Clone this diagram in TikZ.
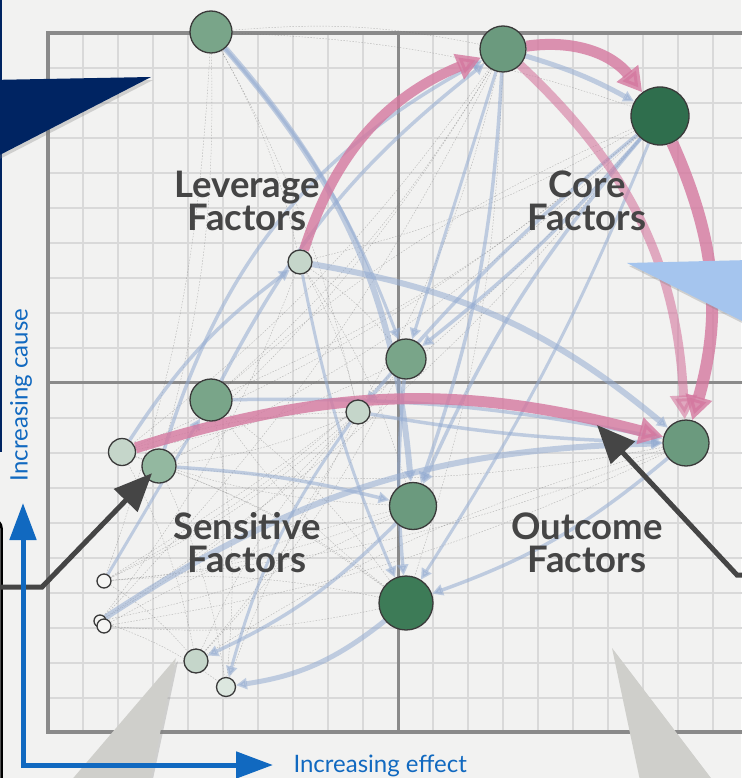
\documentclass[tikz,border=0pt]{standalone}
\usepackage{fontspec}
\setmainfont{Lato}
\usetikzlibrary{arrows.meta,shadows}
\definecolor{paper}{HTML}{F2F2F1}
\definecolor{gridline}{HTML}{D9D9D9}
\definecolor{frameline}{HTML}{8A8A8A}
\definecolor{navy}{HTML}{002462}
\definecolor{sky}{HTML}{A5C5EE}
\definecolor{stone}{HTML}{CFCFCB}
\definecolor{ink}{HTML}{454545}
\definecolor{axisblue}{HTML}{1169C0}
\definecolor{rose}{HTML}{D4789F}
\definecolor{steel}{HTML}{94ACD2}
\definecolor{rim}{HTML}{3A3A3A}
\definecolor{deep}{HTML}{2F6E4D}
\definecolor{dark}{HTML}{3D7B57}
\definecolor{mid}{HTML}{6B9A7E}
\definecolor{soft}{HTML}{79A589}
\definecolor{pale}{HTML}{93B8A0}
\definecolor{mist}{HTML}{C5D6CA}
\definecolor{frost}{HTML}{DCE7DF}
\definecolor{blank}{HTML}{F5F5F3}
\pgfdeclarelayer{base}
\pgfdeclarelayer{edges}
\pgfsetlayers{base,edges,main}
\begin{document}
\begin{tikzpicture}[x=1pt,y=-1pt,
  factor/.style={draw=rim,line width=1.3,shape=circle,inner sep=0},
  faint/.style={draw=black!55,line width=0.45,opacity=0.45,dash pattern=on 1.5pt off 1.5pt},
  link/.style={draw=steel,opacity=0.55,-{Triangle[length=11pt,width=11pt]}},
  key/.style={draw=rose,opacity=0.8,-{Triangle[length=24pt,width=26pt]}},
  quad/.style={text=ink,font=\bfseries\fontsize{36.5}{33}\selectfont,align=center},
  axislabel/.style={text=axisblue,font=\fontsize{24}{28}\selectfont},
  pointer/.style={draw=ink,line width=5,-{Triangle[length=38pt,width=32pt]}},
  callout/.style={drop shadow={opacity=0.3,shadow xshift=2pt,shadow yshift=-3pt}}]
\useasboundingbox (0,0) rectangle (741,778);
\begin{pgfonlayer}{base}
\fill[paper] (0,0) rectangle (741,778);
\foreach \k in {1,...,19} {
  \draw[gridline,line width=1.6] (48+35*\k,33) -- (48+35*\k,732);
  \draw[gridline,line width=1.6] (48,33+35*\k) -- (748,33+35*\k);
}
\draw[frameline,line width=3.5] (48,33) rectangle (748,732);
\draw[frameline,line width=3] (398,33) -- (398,732) (48,382) -- (748,382);
\end{pgfonlayer}

\node [factor,name=f1,minimum size=42,fill=soft] at (211,32){};
\node [factor,name=f2,minimum size=46,fill=mid] at (503,49){};
\node [factor,name=f3,minimum size=58,fill=deep] at (660,116){};
\node [factor,name=f4,minimum size=24,fill=mist] at (300,262){};
\node [factor,name=f5,minimum size=40,fill=soft] at (406,359){};
\node [factor,name=f6,minimum size=42,fill=soft] at (211,400){};
\node [factor,name=f7,minimum size=24,fill=mist] at (358,412){};
\node [factor,name=f8,minimum size=27,fill=mist] at (122,452){};
\node [factor,name=f9,minimum size=34,fill=pale] at (159,466){};
\node [factor,name=f10,minimum size=46,fill=mid] at (686,443){};
\node [factor,name=f11,minimum size=47,fill=mid] at (413,506){};
\node [factor,name=f12,minimum size=54,fill=dark] at (406,603){};
\node [factor,name=f13,minimum size=14,fill=blank] at (104,581){};
\node [factor,name=f14,minimum size=12,fill=blank] at (100,621){};
\node [factor,name=f15,minimum size=14,fill=blank] at (104,626){};
\node [factor,name=f16,minimum size=24,fill=mist] at (196,661){};
\node [factor,name=f17,minimum size=19,fill=frost] at (226,687){};

\begin{pgfonlayer}{edges}
\foreach \a/\b in {f1/f2,f1/f3,f1/f7,f1/f9,f1/f13,f2/f7,f2/f8,f2/f12,f2/f14,f3/f6,
  f3/f8,f3/f9,f3/f13,f4/f5,f4/f7,f4/f11,f4/f14,f5/f8,f5/f16,f6/f12,f6/f17,f7/f9,
  f7/f13,f7/f14,f7/f16,f8/f12,f8/f16,f9/f12,f9/f17,f10/f13,f10/f9,f11/f14,f11/f13,
  f12/f15,f13/f16,f14/f17,f15/f11,f16/f10,f17/f5,f6/f3,f1/f4,f8/f7,f13/f12,f2/f6,
  f3/f4,f3/f14,f2/f9,f5/f13,f10/f15,f11/f8,f12/f6,f16/f7}
  \draw[faint] (\a) to[bend left=8] (\b);
\draw[link,line width=6] (f1) to[bend left=18] (f11);
\draw[link,line width=3] (f1) to[bend left=10] (f5);
\draw[link,line width=6] (f4) to[bend left=15] (f10);
\draw[link,line width=5] (f2) to[bend left=6] (f3);
\draw[link,line width=6] (f14) to[bend left=16] (f10);
\draw[link,line width=5] (f12) to[bend left=15] (f17);
\draw[link,line width=3.5] (f10) to[bend left=10] (f12);
\draw[link,line width=3.5] (f6) to[bend left=12] (f2);
\draw[link,line width=3.5] (f9) to[bend left=22] (f2);
\draw[link,line width=3.5] (f2) to[bend left=8] (f11);
\draw[link,line width=3] (f2) -- (f5);
\draw[link,line width=3.5] (f3) to[bend right=5] (f7);
\draw[link,line width=3.5] (f3) to[bend left=5] (f5);
\draw[link,line width=3.5] (f3) to[bend right=8] (f11);
\draw[link,line width=3] (f3) to[bend left=5] (f12);
\draw[link,line width=3.5] (f5) to[bend right=5] (f12);
\draw[link,line width=3.5] (f11) to[bend left=10] (f16);
\draw[link,line width=3] (f7) to[bend right=10] (f17);
\draw[link,line width=3.5] (f9) to[bend left=5] (f11);
\draw[link,line width=3] (f13) -- (f6);
\draw[link,line width=3.5] (f8) to[bend left=10] (f4);
\draw[link,line width=3] (f4) to[bend right=6] (f12);
\draw[link,line width=3.5] (f6) to[bend left=6] (f10);
\draw[link,line width=3.5] (f7) to[bend right=4] (f10);
\draw[key,line width=10] (f4) to[bend left=25] (f2);
\draw[key,line width=11] (f2) to[bend left=30] (f3);
\draw[key,line width=9,opacity=0.6] (f2) to[bend left=22] (f10);
\draw[key,line width=12] (f3) to[bend left=20] (f10);
\draw[key,line width=11] (f8) to[bend left=16] (f10);
\end{pgfonlayer}

\node [quad,name=lever] at (247,201) {Leverage\\Factors};
\node [quad,name=core] at (587,201) {Core\\Factors};
\node [quad,name=sens] at (247,543) {Sensitive\\Factors};
\node [quad,name=outc] at (587,543) {Outcome\\Factors};

\fill[navy] (-10,-10) rectangle (2,452);
\fill[navy,callout] (-10,80) -- (151,77) -- (-10,160) -- cycle;
\fill[sky,callout] (627,263) -- (750,260) -- (750,325) -- cycle;
\fill[stone,callout] (176,658) -- (148,790) -- (63,790) -- cycle;
\fill[stone,callout] (612,648) -- (720,790) -- (642,790) -- cycle;
\draw[black,line width=2.5,rounded corners=8] (-20,520) -- (1.5,520) -- (1.5,800);

\coordinate (boxL) at (-5,587);
\coordinate (boxR) at (750,575);
\coordinate (hit) at (597,425);
\draw[pointer,shorten >=10pt] (boxL) -- (42,587) -- (f9.center);
\draw[pointer] (boxR) -- (737,575) -- (hit);

\coordinate (origin) at (23,765);
\coordinate (causeend) at (23,503);
\coordinate (effectend) at (273,765);
\draw[axisblue,line width=5,{Triangle[length=37pt,width=26pt]}-{Triangle[length=37pt,width=26pt]}]
  (causeend) -- (origin) -- (effectend);
\node [axislabel,rotate=90,name=cause] at (21,395) {Increasing cause};
\node [axislabel,anchor=base west,name=effect] at (290,772) {Increasing effect};
\end{tikzpicture}
\end{document}
